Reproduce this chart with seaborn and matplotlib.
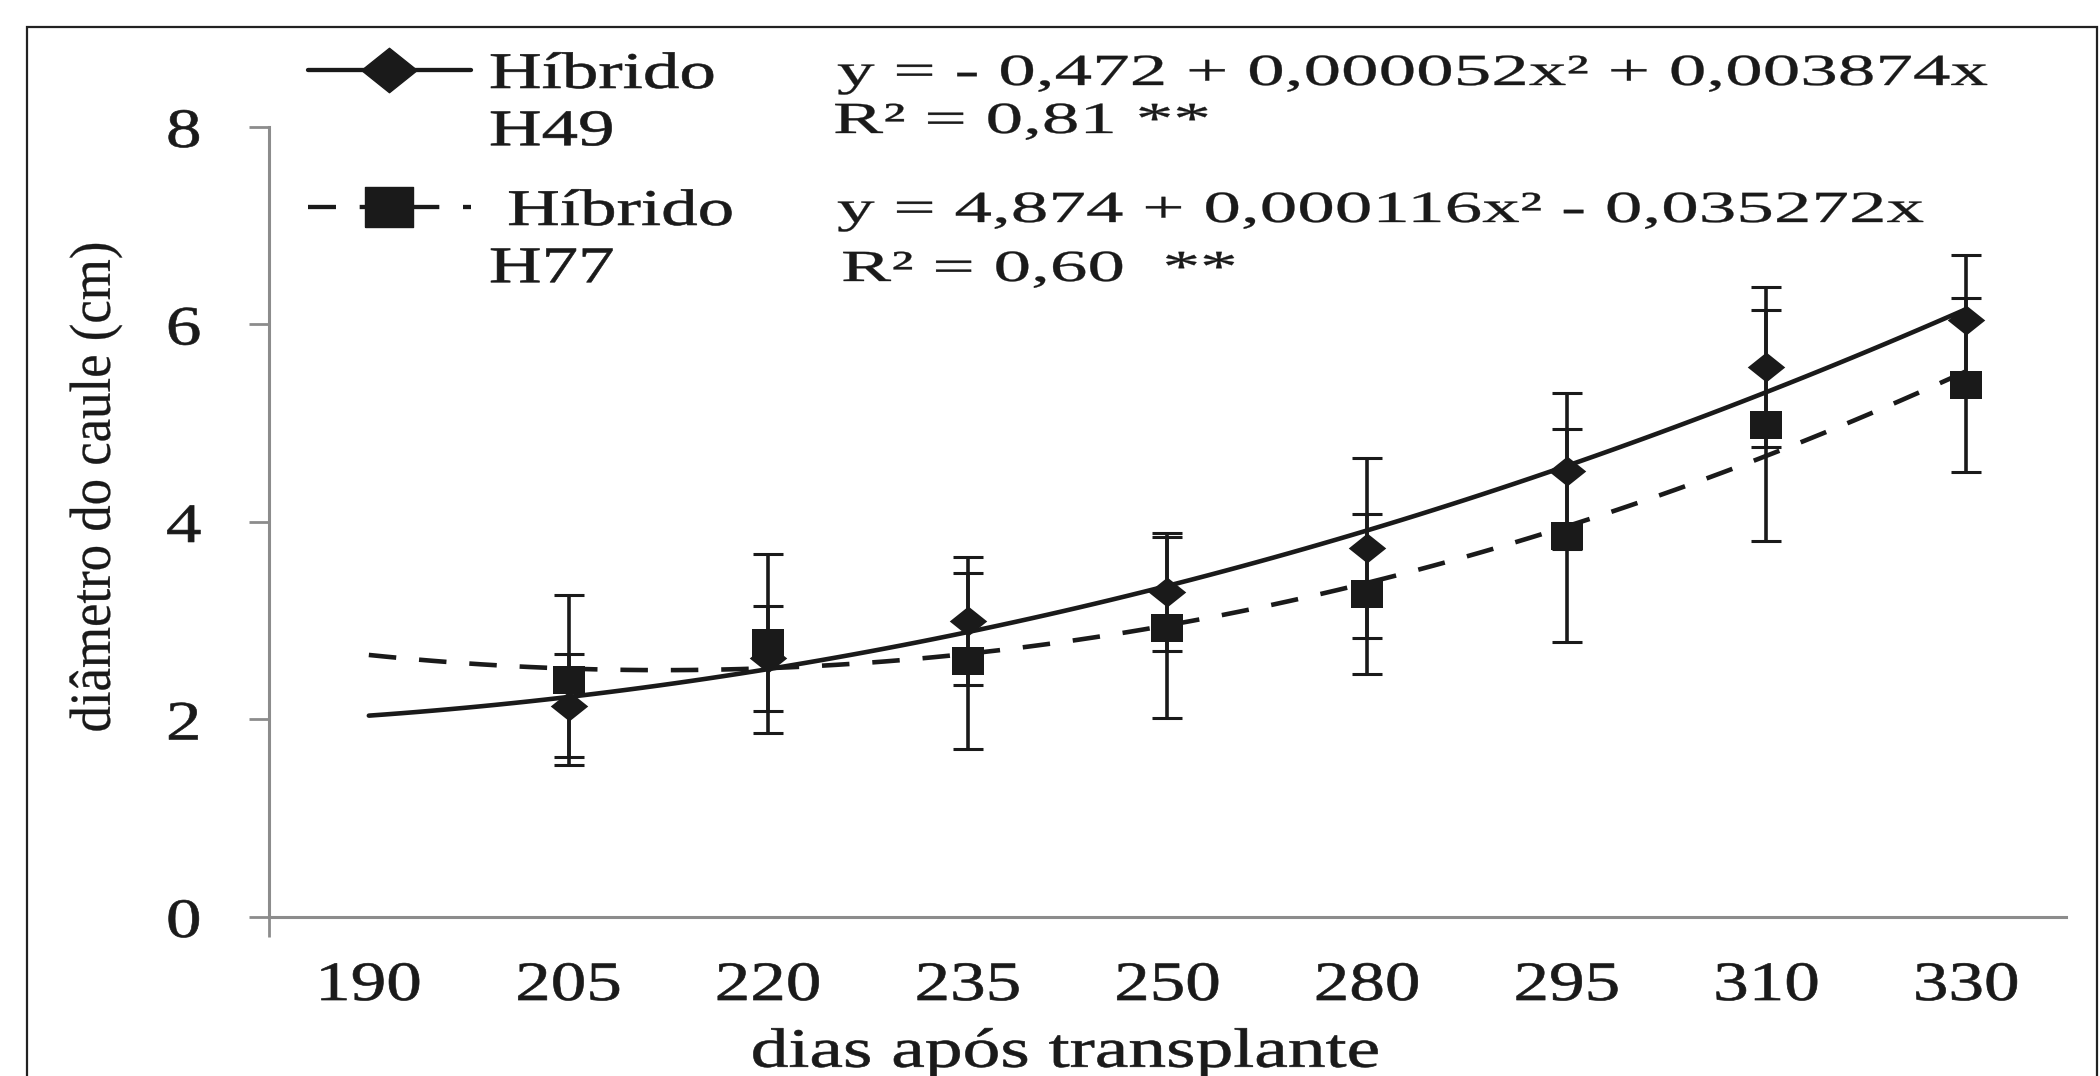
import numpy as np
import matplotlib.pyplot as plt
import seaborn as sns
from matplotlib import patheffects
from matplotlib.lines import Line2D
from matplotlib.patches import Rectangle
from matplotlib.transforms import Affine2D

# dados
days = ['190', '205', '220', '235', '250', '280', '295', '310', '330']
h49_mean = [np.nan, 2.14, 2.62, 3.00, 3.29, 3.74, 4.52, 5.57, 6.05]
h49_err = [np.nan, 0.52, 0.53, 0.65, 0.60, 0.91, 0.79, 0.81, 0.65]
h77_mean = [np.nan, 2.40, 2.77, 2.59, 2.93, 3.27, 3.86, 4.98, 5.39]
h77_err = [np.nan, 0.86, 0.91, 0.89, 0.92, 0.81, 1.08, 1.17, 0.88]
eq_h49 = ['y = - 0,472 + 0,000052x² + 0,003874x', 'R² = 0,81 **']
eq_h77 = ['y = 4,874 + 0,000116x² - 0,035272x', 'R² = 0,60  **']
idx = np.arange(len(days))


# the original picture is stretched sideways, so widen the glyphs the same way
class Stretch(patheffects.AbstractPathEffect):
    def __init__(self, sx, anchor='center', lw=0.45):
        super().__init__()
        self.sx = sx
        self.anchor = anchor
        self.lw = lw

    def draw_path(self, renderer, gc, tpath, affine, rgbFace=None):
        if self.anchor == 'left':
            x0 = affine.get_matrix()[0, 2]
        else:
            ext = tpath.get_extents(affine)
            x0 = (ext.x0 + ext.x1) / 2
        wide = affine + Affine2D().translate(-x0, 0).scale(self.sx, 1).translate(x0, 0)
        gc.set_linewidth(self.lw)
        gc.set_joinstyle('round')
        renderer.draw_path(gc, tpath, wide, rgbFace)


sns.set_theme(style='white')
plt.rcParams['font.family'] = ['Liberation Serif', 'DejaVu Serif']

grey = '#8c8c8c'
diamond = [(-1, 0), (0, 0.8), (1, 0), (0, -0.8), (-1, 0)]
square = [(-1, -0.85), (1, -0.85), (1, 0.85), (-1, 0.85), (-1, -0.85)]
dash = (0, (6.5, 5.5))

fig = plt.figure(figsize=(21, 10.76), dpi=100)
ax = fig.add_axes([0.1281, 0.1478, 0.8557, 0.7342])

# trend lines (quadratic fits drawn from 190 to 330)
ax.set_xlim(0, 8)
sns.regplot(x=idx, y=h49_mean, order=2, ci=None, scatter=False, truncate=False,
            ax=ax, line_kws=dict(color='k', lw=3.3, zorder=2))
sns.regplot(x=idx, y=h77_mean, order=2, ci=None, scatter=False, truncate=False,
            ax=ax, line_kws=dict(color='k', lw=3.3, ls=(0, (6, 5)), zorder=2))

ax.errorbar(idx, h49_mean, yerr=h49_err, fmt='none', ecolor='k', elinewidth=2.6,
            capsize=10.8, capthick=2.2, zorder=3)
ax.errorbar(idx, h77_mean, yerr=h77_err, fmt='none', ecolor='k', elinewidth=2.6,
            capsize=10.8, capthick=2.2, zorder=3)

sns.scatterplot(x=idx, y=h49_mean, marker=diamond, s=27 ** 2, color='k',
                edgecolor='k', linewidth=0, ax=ax, zorder=4)
sns.scatterplot(x=idx, y=h77_mean, marker=square, s=23.5 ** 2, color='k',
                edgecolor='k', linewidth=0, ax=ax, zorder=4)

ax.set_xlim(-0.5, 8.5)
ax.set_ylim(0, 8)
ax.set_xticks(idx, days)
ax.set_xticks([-0.5], minor=True)
ax.set_yticks([0, 2, 4, 6, 8])

for side in ['top', 'right']:
    ax.spines[side].set_visible(False)
for side in ['left', 'bottom']:
    ax.spines[side].set_color(grey)
    ax.spines[side].set_linewidth(2.2)

ax.tick_params(axis='y', left=True, length=14.4, width=2, color=grey,
               direction='out', pad=37, labelsize=40, labelcolor='k')
ax.tick_params(axis='x', which='major', bottom=True, length=0, pad=31,
               labelsize=40, labelcolor='k')
ax.tick_params(axis='x', which='minor', bottom=True, length=14.4, width=2,
               color=grey, direction='out')
for lab in ax.get_xticklabels() + ax.get_yticklabels():
    lab.set_path_effects([Stretch(1.28)])

ax.set_xlabel('dias após transplante', fontsize=40, color='k')
ax.xaxis.set_label_coords(0.443, -0.139)
ax.xaxis.label.set_path_effects([Stretch(1.36)])
ax.set_ylabel('diâmetro do caule (cm)', fontsize=38, color='k')
ax.yaxis.set_label_coords(-0.083, 0.544)
ax.yaxis.label.set_path_effects([Stretch(1.1, lw=0.2)])

# legend, one block per hybrid (handle sits on the first text line)
blank = Line2D([], [], linestyle='none')
h49_handle = Line2D([], [], color='k', lw=3.1, marker=diamond, markersize=40)
h77_handle = Line2D([], [], color='k', lw=3.1, ls=dash, marker=square, markersize=34)
leg_kw = dict(loc='upper left', frameon=False, fontsize=37, handlelength=3.17,
              handletextpad=0.35, borderpad=0, borderaxespad=0, labelspacing=0.2,
              numpoints=1)
leg1 = fig.legend(handles=[h49_handle, blank], labels=['Híbrido', 'H49'],
                  bbox_to_anchor=(308 / 2100, 1 - 52 / 1076), **leg_kw)
leg2 = fig.legend(handles=[h77_handle, blank], labels=[' Híbrido', 'H77'],
                  bbox_to_anchor=(308 / 2100, 1 - 189 / 1076), **leg_kw)
for leg in [leg1, leg2]:
    for t in leg.get_texts():
        t.set_color('k')
        t.set_path_effects([Stretch(1.42, 'left')])

# trend equations
eq_pos = [(837, 85, eq_h49[0]), (833, 133, eq_h49[1]),
          (837, 222, eq_h77[0]), (841, 281, eq_h77[1])]
for px, py, s in eq_pos:
    fig.text(px / 2100, 1 - py / 1076, s, ha='left', va='baseline', fontsize=32,
             color='k', path_effects=[Stretch(1.69, 'left', lw=0.25)])

# chart border
fig.add_artist(Rectangle((27 / 2100, -0.02), 2070 / 2100, 1.02 - 27 / 1076,
                         transform=fig.transFigure, fill=False, ec='#222', lw=1.6))

fig.savefig('out.png', dpi=100)
